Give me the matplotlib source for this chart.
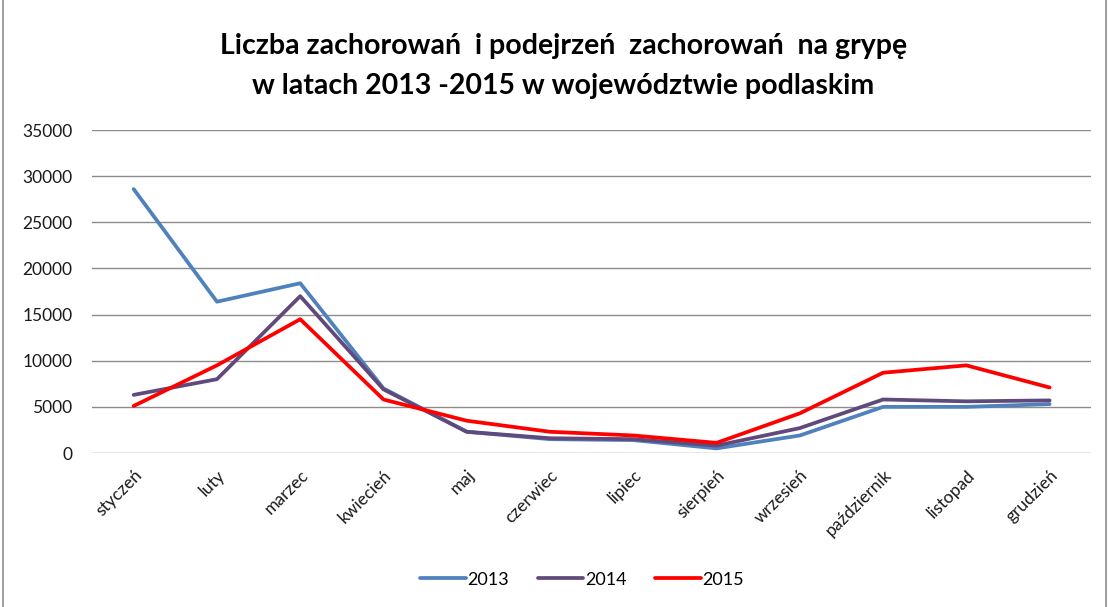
import matplotlib.pyplot as plt
from matplotlib.patches import Rectangle

plt.rcParams['font.family'] = ['Lato', 'DejaVu Sans']

months = ['styczeń', 'luty', 'marzec', 'kwiecień', 'maj', 'czerwiec',
          'lipiec', 'sierpień', 'wrzesień', 'październik', 'listopad', 'grudzień']
y2013 = [28600, 16400, 18400, 7000, 2300, 1500, 1400, 500, 1900, 5000, 5000, 5300]
y2014 = [6300, 8000, 17000, 6900, 2300, 1600, 1500, 800, 2700, 5800, 5600, 5700]
y2015 = [5100, 9500, 14500, 5800, 3500, 2300, 1900, 1100, 4300, 8700, 9500, 7100]
years = ['2013', '2014', '2015']
colors = ['#4F81BD', '#604A7B', '#FF0000']

fig = plt.figure(figsize=(11.09, 6.07), dpi=100)
ax = fig.add_axes([0.083, 0.2537, 0.901, 0.532])

x = range(len(months))
for ys, lab, c in zip([y2013, y2014, y2015], years, colors):
    ax.plot(x, ys, color=c, lw=2.7, label=lab, solid_capstyle='round')

ax.set_xlim(-0.5, len(months) - 0.5)
ax.set_ylim(0, 35000)
ax.set_yticks(range(0, 35001, 5000))
ax.yaxis.grid(True, color='#8c8c8c', lw=1.0)
ax.set_axisbelow(True)
for s in ax.spines.values():
    s.set_visible(False)
ax.tick_params(axis='both', length=0, labelsize=12.5, colors='#1a1a1a')
ax.tick_params(axis='y', pad=14)
ax.set_xticks(list(x))
ax.set_xticklabels(months, rotation=45, ha='right', rotation_mode='anchor')
ax.tick_params(axis='x', pad=10)

fig.text(0.508, 0.925, 'Liczba zachorowań  i podejrzeń  zachorowań  na grypę',
         ha='center', va='center', fontsize=20.5, fontweight='bold')
fig.text(0.508, 0.858, 'w latach 2013 -2015 w województwie podlaskim',
         ha='center', va='center', fontsize=20.5, fontweight='bold')

fig.legend(loc='center', bbox_to_anchor=(0.525, 0.045), ncol=3, frameon=False,
           fontsize=13, handlelength=2.5, handletextpad=0.1, columnspacing=1.6)

fig.patches.append(Rectangle((0.003, -0.01), 0.994, 1.02, transform=fig.transFigure,
                             fill=False, edgecolor='#8c8c8c', lw=1.2))

fig.savefig('out.png', dpi=100)
